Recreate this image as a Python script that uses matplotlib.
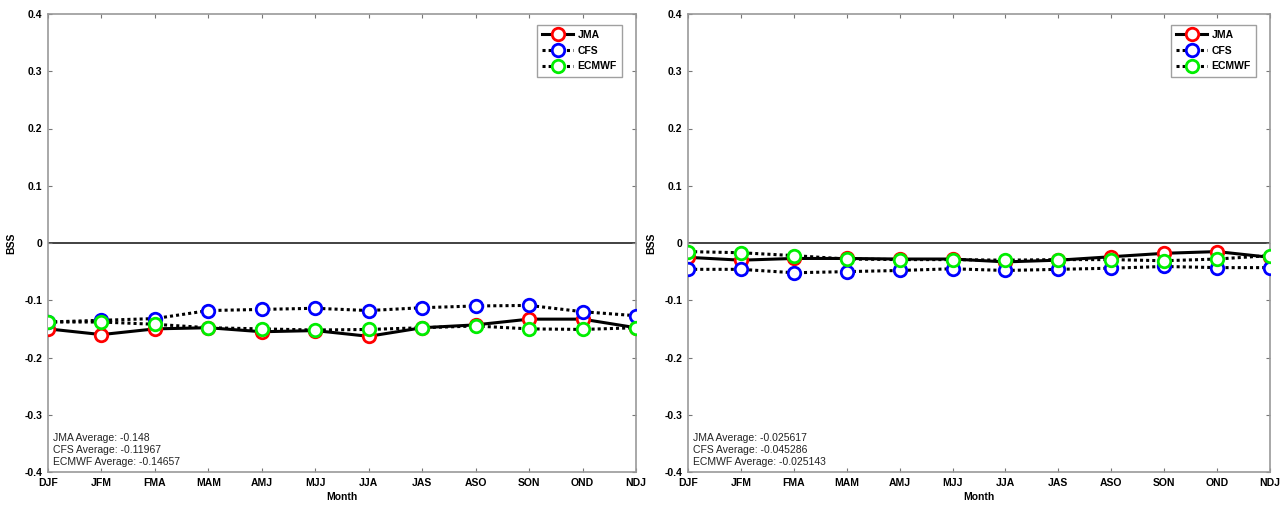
import matplotlib
matplotlib.use("Agg")
import matplotlib.pyplot as plt
import numpy as np

plt.rcParams['font.family'] = ['Liberation Sans', 'DejaVu Sans']

months = ["DJF", "JFM", "FMA", "MAM", "AMJ", "MJJ", "JJA", "JAS", "ASO", "SON", "OND", "NDJ"]
yticks = [-0.4, -0.3, -0.2, -0.1, 0, 0.1, 0.2, 0.3, 0.4]
ytick_labels = ["-0.4", "-0.3", "-0.2", "-0.1", "0", "0.1", "0.2", "0.3", "0.4"]

# Left panel
jma_left = [-0.150, -0.160, -0.150, -0.148, -0.155, -0.153, -0.163, -0.148, -0.143, -0.133, -0.133, -0.148]
cfs_left = [-0.138, -0.135, -0.132, -0.118, -0.116, -0.114, -0.118, -0.113, -0.110, -0.109, -0.120, -0.127]
ecmwf_left = [-0.138, -0.138, -0.142, -0.148, -0.150, -0.152, -0.151, -0.148, -0.145, -0.150, -0.151, -0.148]
avg_left = ["JMA Average: -0.148", "CFS Average: -0.11967", "ECMWF Average: -0.14657"]

# Right panel
jma_right = [-0.025, -0.030, -0.027, -0.027, -0.028, -0.028, -0.033, -0.030, -0.024, -0.018, -0.015, -0.025]
cfs_right = [-0.046, -0.046, -0.052, -0.050, -0.048, -0.045, -0.048, -0.046, -0.044, -0.041, -0.043, -0.043]
ecmwf_right = [-0.015, -0.017, -0.022, -0.028, -0.029, -0.029, -0.030, -0.029, -0.029, -0.031, -0.028, -0.022]
avg_right = ["JMA Average: -0.025617", "CFS Average: -0.045286", "ECMWF Average: -0.025143"]

fig = plt.figure(figsize=(12.83, 5.08), dpi=100)
ax1 = fig.add_axes([48/1283, 36/508, 588/1283, 458/508])
ax2 = fig.add_axes([688/1283, 36/508, 582/1283, 458/508])

def draw(ax, jma, cfs, ecm, avgs):
    x = np.arange(len(months))
    ax.axhline(0, color='#333333', lw=1.3, zorder=1)
    mk = dict(marker='o', markersize=9, markerfacecolor='white', markeredgewidth=2.0)
    ax.plot(x, jma, color='black', lw=2.2, ls='-', markeredgecolor='red', label='JMA', zorder=3, **mk)
    ax.plot(x, cfs, color='black', lw=2.2, ls=(0, (1, 1)), markeredgecolor='blue', label='CFS', zorder=4, **mk)
    ax.plot(x, ecm, color='black', lw=2.2, ls=(0, (1, 1)), markeredgecolor='#00ee00', label='ECMWF', zorder=5, **mk)
    ax.set_xlim(0, 11)
    ax.set_ylim(-0.4, 0.4)
    ax.set_xticks(x)
    ax.set_xticklabels(months, fontsize=7.5, fontweight='bold')
    ax.set_yticks(yticks)
    ax.set_yticklabels(ytick_labels, fontsize=7.5, fontweight='bold')
    ax.tick_params(direction='in', length=3, width=0.8, top=True, right=True, color='#777777', pad=4)
    for s in ax.spines.values():
        s.set_color('#999999')
        s.set_linewidth(1.2)
    ax.set_xlabel('Month', fontsize=7.5, fontweight='bold', labelpad=3)
    ax.set_ylabel('BSS', fontsize=7.5, fontweight='bold', labelpad=6)
    ax.text(0.008, 0.012, "\n".join(avgs), transform=ax.transAxes, fontsize=7.5,
            va='bottom', ha='left', linespacing=1.25, color='#222222')
    leg = ax.legend(loc='upper right', bbox_to_anchor=(0.985, 0.988),
                    prop={'weight': 'bold', 'size': 7.5}, frameon=True, fancybox=False,
                    handlelength=3.0, borderpad=0.5, labelspacing=0.55, handletextpad=0.4,
                    markerscale=1.0)
    leg.get_frame().set_edgecolor('#888888')
    leg.get_frame().set_linewidth(1.0)

draw(ax1, jma_left, cfs_left, ecmwf_left, avg_left)
draw(ax2, jma_right, cfs_right, ecmwf_right, avg_right)

fig.savefig('out.png', dpi=100)
